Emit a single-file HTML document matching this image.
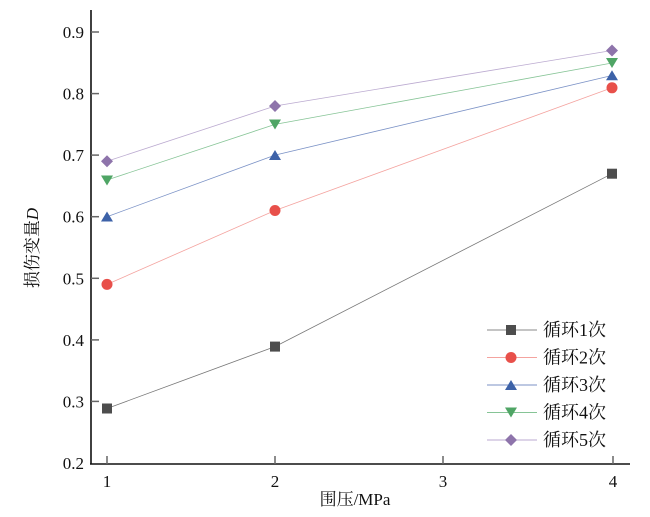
<!DOCTYPE html><html><head><meta charset="utf-8"><style>body{margin:0;background:#fff}svg{display:block}text{font-family:"Liberation Serif","Noto Serif CJK SC",serif;fill:#111}</style></head><body>
<svg width="650" height="517" viewBox="0 0 650 517">
<g stroke="#111" stroke-width="1.6" fill="none"><line x1="91" y1="10" x2="91" y2="464"/><line x1="90" y1="464" x2="630" y2="464"/></g>
<g stroke="#666" stroke-width="1.5">
<line x1="91" y1="32" x2="99" y2="32"/><line x1="91" y1="93.6" x2="99" y2="93.6"/><line x1="91" y1="155.1" x2="99" y2="155.1"/><line x1="91" y1="216.7" x2="99" y2="216.7"/><line x1="91" y1="278.3" x2="99" y2="278.3"/><line x1="91" y1="339.9" x2="99" y2="339.9"/><line x1="91" y1="401.4" x2="99" y2="401.4"/>
<line x1="107" y1="464" x2="107" y2="456"/><line x1="275" y1="464" x2="275" y2="456"/><line x1="443" y1="464" x2="443" y2="456"/><line x1="613" y1="464" x2="613" y2="456"/></g>
<g font-size="17" text-anchor="end"><text x="84" y="38">0.9</text><text x="84" y="99.6">0.8</text><text x="84" y="161">0.7</text><text x="84" y="222.7">0.6</text><text x="84" y="284.3">0.5</text><text x="84" y="345.9">0.4</text><text x="84" y="407.4">0.3</text><text x="84" y="469">0.2</text></g>
<g font-size="17" text-anchor="middle"><text x="107" y="487">1</text><text x="275" y="487">2</text><text x="443" y="487">3</text><text x="613" y="487">4</text>
<text x="355" y="505">围压/MPa</text>
<text transform="translate(38,248) rotate(-90)">损伤变量<tspan font-style="italic">D</tspan></text></g>
<g stroke-width="0.8" fill="none">
<polyline stroke="#777" points="107,408.5 275,346.6 612,173.7"/>
<polyline stroke="#f4a39f" points="107,284.4 275,210.5 612,87.8"/>
<polyline stroke="#7b92c6" points="107,216.7 275,155.1 612,75.5"/>
<polyline stroke="#86c496" points="107,180 275,124.4 612,63"/>
<polyline stroke="#bbaad0" points="107,161.3 275,106 612,50.5"/>
</g>
<g id="m">
<rect x="102" y="403.5" width="10" height="10" fill="#4d4d4d"/><rect x="270" y="341.6" width="10" height="10" fill="#4d4d4d"/><rect x="607" y="168.7" width="10" height="10" fill="#4d4d4d"/>
<circle cx="107" cy="284.4" r="5.5" fill="#e8504a"/><circle cx="275" cy="210.5" r="5.5" fill="#e8504a"/><circle cx="612" cy="87.8" r="5.5" fill="#e8504a"/>
<path d="M101,221.5h12l-6,-10z M269,160h12l-6,-10z M606,80.3h12l-6,-10z" fill="#3d62a8"/>
<path d="M101,175.5h12l-6,10z M269,119.5h12l-6,10z M606,58h12l-6,10z" fill="#4fa565"/>
<path d="M107,155.3l6,6l-6,6l-6,-6z M275,100l6,6l-6,6l-6,-6z M612,44.5l6,6l-6,6l-6,-6z" fill="#8e74ab"/>
</g>
<g stroke-width="1"><line x1="487" y1="330" x2="537" y2="330" stroke="#888"/><line x1="487" y1="357.5" x2="537" y2="357.5" stroke="#f4a39f"/><line x1="487" y1="385" x2="537" y2="385" stroke="#7b92c6"/><line x1="487" y1="412.5" x2="537" y2="412.5" stroke="#86c496"/><line x1="487" y1="440" x2="537" y2="440" stroke="#bbaad0"/></g>
<rect x="506" y="325" width="10" height="10" fill="#4d4d4d"/><circle cx="511" cy="357.5" r="5.5" fill="#e8504a"/><path d="M505,390h12l-6,-10z" fill="#3d62a8"/><path d="M505,407.5h12l-6,10z" fill="#4fa565"/><path d="M511,434l6,6l-6,6l-6,-6z" fill="#8e74ab"/>
<g font-size="18"><text x="543" y="336">循环1次</text><text x="543" y="363.5">循环2次</text><text x="543" y="391">循环3次</text><text x="543" y="418.5">循环4次</text><text x="543" y="446">循环5次</text></g>
</svg></body></html>
